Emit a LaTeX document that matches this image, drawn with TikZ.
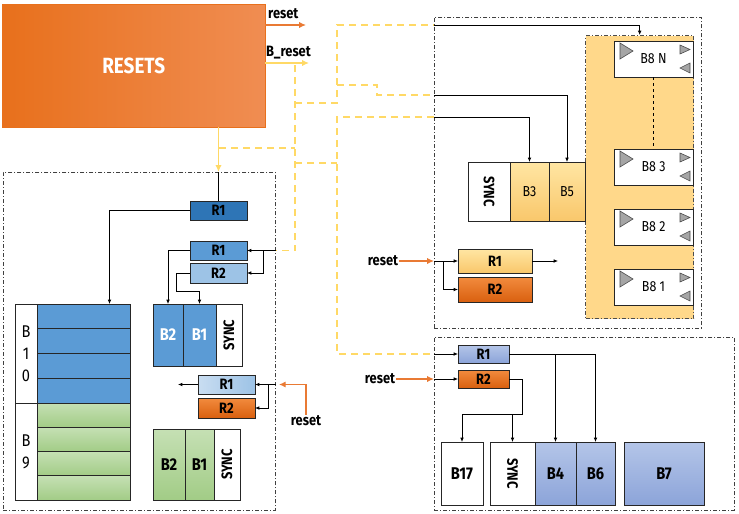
\documentclass[tikz,border=0pt]{standalone}
\usepackage{fontspec}
\setmainfont{Fira Sans}[FakeStretch=0.86]
\usetikzlibrary{calc, positioning}
\usetikzlibrary{arrows, chains}
\usetikzlibrary{arrows.meta}
\tikzset{>={Latex[width=1.3mm,length=1.5mm]}}
\definecolor{resA}{HTML}{E8701C}
\definecolor{resB}{HTML}{F08D52}
\definecolor{bres}{HTML}{FFD966}
\definecolor{rst}{HTML}{E97A34}
\definecolor{dkblue}{HTML}{2E75B6}
\definecolor{mdblue}{HTML}{5B9BD5}
\definecolor{ltblue}{HTML}{9DC3E6}
\definecolor{paleblue}{HTML}{C9DDF1}
\definecolor{grnA}{HTML}{C5E0B4}
\definecolor{grnB}{HTML}{A2CC86}
\definecolor{orgA}{HTML}{F28B3E}
\definecolor{orgB}{HTML}{D9600F}
\definecolor{ylwA}{HTML}{FFE6A3}
\definecolor{ylwB}{HTML}{F9C76B}
\definecolor{panel}{HTML}{FFD88A}
\definecolor{lavA}{HTML}{B4C5E8}
\definecolor{lavB}{HTML}{8CA4D9}
\definecolor{tri}{HTML}{A5A5A5}

\begin{document}
\begin{tikzpicture}[
    x = 1pt, y = -1pt,
    node distance = 0mm,
    wh/.style 2 args = {minimum width=#1pt, minimum height=#2pt},
    cell/.style = {draw=black!85, line width=0.8pt, inner sep=0pt,
        outer sep=0pt, font=\bfseries\fontsize{17}{17}\selectfont},
    thin/.style = {font=\fontsize{14.5}{14.5}\selectfont},
    sync/.style = {font=\bfseries\fontsize{15}{15}\selectfont},
    reg/.style = {cell, anchor=north west, wh={57}{19},
        font=\bfseries\fontsize{15}{15}\selectfont},
    lbl/.style = {font=\bfseries\fontsize{15}{15}\selectfont, inner sep=1pt},
    frame/.style = {draw=black!75, line width=0.9pt, anchor=north west,
        dash pattern=on 4pt off 2pt on 1pt off 2pt, inner sep=0pt},
    conn/.style = {draw=black, line width=0.8pt},
    ydash/.style = {draw=bres, line width=1.6pt, dash pattern=on 7pt off 5pt},
    big/.style = {-{Latex[width=2.2mm,length=2.4mm]}},
    rstline/.style = {draw=rst, line width=1.4pt, big},
    tribox/.style = {fill=tri, draw=black!70, line width=0.6pt}
  ]
  \useasboundingbox (0,0) rectangle (739,514);

  \node[anchor=north west, wh={263}{123}, left color=resA, right color=resB,
    draw=resA, text=white, font=\bfseries\fontsize{22}{22}\selectfont] (RES) at (2,4) {RESETS};
  \coordinate (RSTEND) at (306,25);
  \coordinate (BRSTEND) at (309,63);
  \draw[rstline] (RES.east |- RSTEND) -- (RSTEND);
  \draw[big, draw=bres, line width=1.4pt] (RES.east |- BRSTEND) -- (BRSTEND);
  \node[lbl, anchor=base west] (RSTTXT) at (267,19) {reset};
  \node[lbl, anchor=base west] (BRSTTXT) at (265,56) {B\_reset};

  \node[frame, wh={272}{338}] (LFRM) at (3,172) {};
  \node[frame, wh={267}{311}] (RFRM) at (434,17) {};
  \node[frame, wh={300}{173}] (BFRM) at (434,337) {};
  \node[frame, wh={108}{283}, fill=panel, draw=black!70, line width=1.3pt] (PNL) at (585,35) {};

  \foreach \n/\t/\y in {B8N/B8 N/41, B83/B8 3/149, B82/B8 2/209, B81/B8 1/269}
  \node[cell, thin, fill=white, anchor=north west, wh={79}{36}] (\n) at (614,\y) {\t};
  \foreach \n in {B8N, B83, B82, B81} {
    \draw[tribox] ($(\n.north west)+(6,2)$) -- ++(0,16) -- ++(13,-8) -- cycle;
    \draw[tribox] ($(\n.north east)+(-13,4)$) -- ++(0,9) -- ++(10,-4.5) -- cycle;
    \draw[tribox] ($(\n.south east)+(-3,-14)$) -- ++(0,10) -- ++(-10,-5) -- cycle;
  }
  \draw[conn, line width=1.2pt, dashed] (B8N) -- (B83);

  \begin{scope}[start chain=rt going right]
    \node[cell, sync, on chain=rt, anchor=north west, wh={42}{59}, fill=white] (RSYNC) at (468,162) {\rotatebox{-90}{SYNC}};
    \node[cell, thin, on chain=rt, wh={39}{59}, top color=ylwA, bottom color=ylwB] (B3) {B3};
    \node[cell, thin, on chain=rt, wh={36}{59}, top color=ylwA, bottom color=ylwB] (B5) {B5};
  \end{scope}

  \begin{scope}[start chain=lb going right]
    \node[cell, on chain=lb, anchor=north west, wh={30}{62}, fill=mdblue, text=white] (LB2) at (153,304) {B2};
    \node[cell, on chain=lb, wh={33}{62}, fill=mdblue, text=white] (LB1) {B1};
    \node[cell, sync, on chain=lb, wh={26}{62}, fill=white] (LSYNC) {\rotatebox{90}{SYNC}};
  \end{scope}

  \begin{scope}[start chain=lg going right]
    \node[cell, on chain=lg, anchor=north west, wh={32}{71}, top color=grnA, bottom color=grnB] (GB2) at (153,429) {B2};
    \node[cell, on chain=lg, wh={29}{71}, top color=grnA, bottom color=grnB] (GB1) {B1};
    \node[cell, sync, on chain=lg, wh={26}{71}, fill=white] (GSYNC) {\rotatebox{90}{SYNC}};
  \end{scope}

  \begin{scope}[start chain=br going right]
    \node[cell, sync, on chain=br, anchor=north west, wh={45}{63}, fill=white] (BSYNC) at (490,442) {\rotatebox{-90}{SYNC}};
    \node[cell, on chain=br, wh={41}{63}, top color=lavA, bottom color=lavB] (B4) {B4};
    \node[cell, on chain=br, wh={39}{63}, top color=lavA, bottom color=lavB] (B6) {B6};
  \end{scope}
  \node[cell, anchor=north west, wh={42}{63}, fill=white] (B17) at (441,442) {B17};
  \node[cell, anchor=north west, wh={80}{63}, top color=lavA, bottom color=lavB] (B7) at (624,442) {B7};

  \node[cell, anchor=north west, wh={22}{99}, fill=white, align=center,
    font=\fontsize{17}{22}\selectfont] (B10) at (15,304) {B\\1\\0};
  \node[cell, anchor=north west, wh={22}{97}, fill=white, align=center,
    font=\fontsize{17}{22}\selectfont] (B9) at (15,403) {B\\9};
  \foreach \i in {0,...,3} {
    \node[cell, anchor=north west, wh={93}{24.75}, fill=mdblue] (S10\i) at (37,{304+\i*24.75}) {};
    \node[cell, anchor=north west, wh={93}{24.25}, top color=grnA, bottom color=grnB] (S9\i) at (37,{403+\i*24.25}) {};
  }

  \node[reg, fill=dkblue] (LR0) at (190,201) {R1};
  \node[reg, fill=mdblue] (LR1) at (190,241) {R1};
  \node[reg, fill=ltblue, wh={57}{20}] (LR2) at (190,263) {R2};
  \node[reg, left color=paleblue, right color=ltblue] (LR3) at (198,375) {R1};
  \node[reg, top color=orgA, bottom color=orgB, wh={57}{20}] (LR4) at (198,398) {R2};
  \node[reg, wh={74}{24}, top color=ylwA, bottom color=ylwB] (RR1) at (458,249) {R1};
  \node[reg, wh={74}{25}, top color=orgA, bottom color=orgB] (RR2) at (458,277) {R2};
  \node[reg, wh={51}{18}, top color=lavA, bottom color=lavB] (BR1) at (458,345) {R1};
  \node[reg, wh={51}{18}, top color=orgA, bottom color=orgB] (BR2) at (458,370) {R2};

  \coordinate (P1) at (295,65);
  \coordinate (P3) at (337,103);
  \coordinate (P4) at (337,25);
  \coordinate (P5) at (337,85);
  \coordinate (P5b) at (434,95);
  \coordinate (P6) at (219,148);
  \coordinate (P7) at (337,163);
  \coordinate (P8) at (337,117);
  \draw[ydash] (P1) |- (LFRM.east |- LR1);
  \draw[ydash] (P6) -- (P6 -| P1);
  \draw[ydash] (P1 |- P3) -- (P3) -- (P4) -- (RFRM.west |- P4);
  \draw[ydash] (P5) -- ++(40,0) |- (P5b);
  \draw[ydash] (P1 |- P7) -- (P7);
  \draw[ydash] (RFRM.west |- P8) -- (P8) |- (BFRM.west |- BR1);

  \draw[big, draw=bres, line width=1.4pt] (RES.south -| LR0.north) -- (LFRM.north -| LR0.north);
  \draw[conn] (LFRM.north -| LR0.north) -- (LR0.north);
  \draw[conn, ->] (LR0.west) -| ($(S100.north)+(26,0)$);
  \draw[conn, ->] (LFRM.east |- LR1) -- (LR1.east);
  \draw[conn, ->] ($(LR1.east)+(16,0)$) |- (LR2.east);
  \draw[conn, ->] (LR1.west) -| (LB2.north);
  \draw[conn, ->] (LR2.west) -- ++(-14,0) |- ($(LB1.north)+(0,-13)$) -- (LB1.north);

  \node[lbl] (LRST) at (306,421) {reset};
  \coordinate (LOUT) at (178,384.5);
  \draw[rstline] (LRST.north) |- ($(LFRM.east |- LR3)+(3,0)$);
  \draw[conn, ->] (LFRM.east |- LR3) -- (LR3.east);
  \draw[conn, ->] ($(LR3.east)+(13,0)$) |- (LR4.east);
  \draw[conn, ->] (LR3.west) -- (LOUT);

  \draw[conn, ->] (RFRM.west |- P4) -| (PNL.north);
  \draw[conn, ->] (P5b) -| (B5.north);
  \draw[conn, ->] (RFRM.west |- P8) -| (B3.north);

  \node[lbl] (RRST) at (383,261) {reset};
  \coordinate (ROUT) at (558,261);
  \draw[rstline] (RRST.east) -- (RFRM.west |- RRST);
  \draw[conn, ->] (RFRM.west |- RR1) -- (RR1.west);
  \draw[conn, ->] ($(RFRM.west |- RR1)+(9,0)$) |- (RR2.west);
  \draw[conn, ->] (RR1.east) -- (ROUT);

  \node[lbl] (BRST) at (380,379) {reset};
  \coordinate (BJ) at (522,414);
  \draw[rstline] (BRST.east) -- (BFRM.west |- BR2);
  \draw[conn, ->] (BFRM.west |- BR1) -- (BR1.west);
  \draw[conn, ->] (BFRM.west |- BR2) -- (BR2.west);
  \draw[conn, ->] (BR1.east) -| (B6.north);
  \draw[conn, ->] (B4.north |- BR1) -- (B4.north);
  \draw[conn, ->] (BR2.east) -| (BJ) -| (B17.north);
  \draw[conn, ->] (BSYNC.north |- BJ) -- (BSYNC.north);
\end{tikzpicture}
\end{document}
